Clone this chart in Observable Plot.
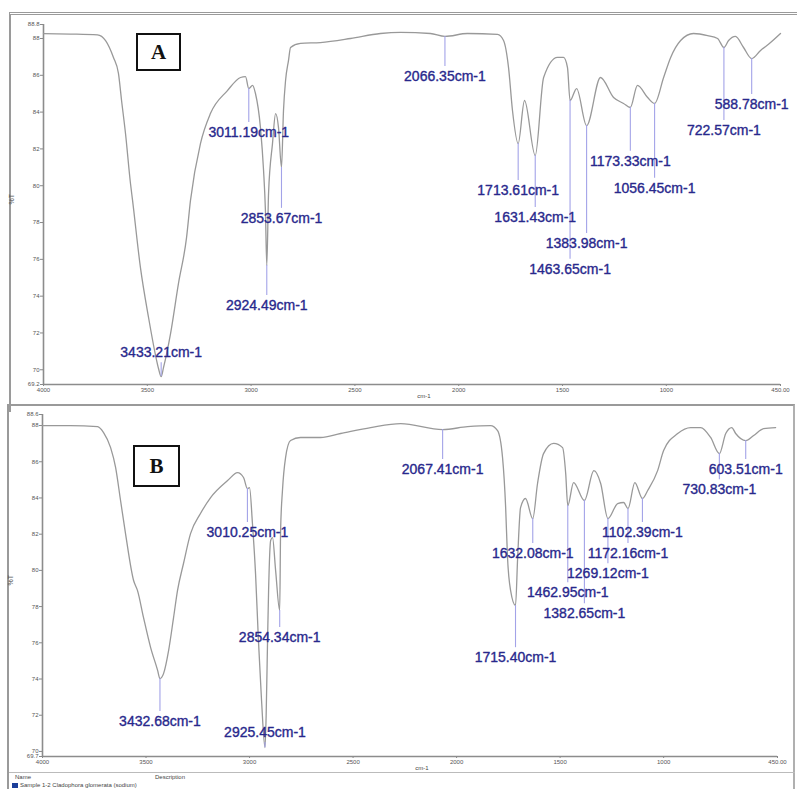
<!DOCTYPE html>
<html><head><meta charset="utf-8">
<script src="https://cdn.jsdelivr.net/npm/d3@7"></script>
<script src="https://cdn.jsdelivr.net/npm/@observablehq/plot@0.6"></script>
<style>
html,body{margin:0;padding:0;background:#fff;}
body{width:797px;height:789px;position:relative;overflow:hidden;font-family:"Liberation Sans",Arial,sans-serif;}
.abs{position:absolute;}
#frameA{left:9px;top:12px;width:820px;height:400px;border-top:3px double #9a9a9a;border-left:2px solid #9a9a9a;box-sizing:border-box;}
#frameB{left:7px;top:404px;width:788px;height:400px;border-top:2px solid #9a9a9a;border-left:2px solid #9a9a9a;border-right:2px solid #b0b0b0;box-sizing:border-box;}
.box{border:2px solid #111;box-sizing:border-box;font-family:"Liberation Serif","Times New Roman",serif;font-weight:bold;font-size:21px;display:flex;align-items:center;justify-content:center;background:#fff;color:#111;}
.tiny{font-size:6px;color:#444;white-space:nowrap;}
</style></head><body>
<div id="frameA" class="abs"></div>
<div id="frameB" class="abs"></div>
<div id="plotA" class="abs" style="left:0;top:0"></div>
<div id="plotB" class="abs" style="left:0;top:400px"></div>
<div class="abs box" style="left:136px;top:33px;width:45px;height:38px">A</div>
<div class="abs box" style="left:133px;top:445px;width:47px;height:42px">B</div>
<div class="abs" style="left:9px;top:772px;width:786px;border-top:1px solid #bbb"></div>
<div class="abs tiny" style="left:15px;top:774px">Name</div>
<div class="abs tiny" style="left:155px;top:774px">Description</div>
<div class="abs" style="left:12px;top:783px;width:6px;height:5px;background:#1d3f9a"></div>
<div class="abs tiny" style="left:20px;top:782px">Sample 1-2 Cladophora glomerata (sodium)</div>
<script>
// ---- Panel A spectrum ----
const wavenumberA = [4000,3870,3740,3701,3663,3639,3624,3605,3581,3571,3533,3494,3460,3446,3433.21,3422,3388,3350,3311,3292,3244,3196,3114,3051,3027,3011.19,2993,2979,2955,2940,2931,2924.49,2916,2897,2882,2868,2853.67,2844,2834,2820,2810,2762,2666,2521,2377,2280,2136,2066.35,1958,1813,1784,1760,1741,1713.61,1683,1631.43,1591,1524,1495,1476,1463.65,1432,1383.98,1317,1254,1206,1173.33,1139,1090,1056.45,1013,979,931,869,801,753,722.57,700,667,628,588.78,546,498,450];
const transmittanceA = [88.26,88.24,88.20,87.89,86.97,86.10,84.63,82.84,80.12,79.20,75.55,72.84,70.77,70.07,69.63,70.12,71.97,74.68,77.18,79.20,82.29,83.92,85.17,85.88,85.93,85.28,85.45,85.01,83.16,80.83,78.65,75.66,79.58,82.29,83.92,83.16,80.99,84.09,85.72,86.80,87.51,87.73,87.78,88.0,88.27,88.33,88.27,88.11,88.27,88.22,87.89,86.42,84.09,82.29,84.63,81.64,85.88,86.97,86.97,86.42,84.63,85.28,83.27,85.88,84.79,84.47,84.25,85.45,84.79,84.47,85.88,86.97,87.89,88.27,88.16,88.0,87.51,87.89,88.11,87.51,86.91,87.35,87.78,88.27];
const peaksA = [3433.21,3011.19,2924.49,2853.67,2066.35,1713.61,1631.43,1463.65,1383.98,1173.33,1056.45,722.57,588.78];
const peakTA = [69.63,85.28,75.66,80.99,88.11,82.29,81.64,84.63,83.27,84.25,84.47,87.51,86.91];
const labelTA = [70.93,82.89,73.49,78.22,85.93,79.74,78.27,75.45,76.86,81.32,79.85,83.0,84.41];
const yDomainA = [69.2, 88.76];

// ---- Panel B spectrum ----
const wavenumberB = [4000,3865,3734,3705,3671,3647,3623,3599,3560,3541,3512,3478,3444,3432.68,3415,3391,3367,3348,3319,3285,3237,3188,3106,3058,3029,3010.25,3000,2986,2971,2957,2942,2925.45,2920,2913,2908,2898,2889,2874,2854.34,2850,2841,2826,2802,2754,2657,2560,2415,2270,2067.41,1947,1836,1802,1778,1763,1754,1739,1715.40,1705,1691,1667,1632.08,1609,1580,1531,1488,1473,1462.95,1435,1382.65,1337,1304,1269.12,1222,1193,1172.16,1139,1102.39,1077,1029,1000,932,869,821,773,730.83,700,671,652,603.51,565,517,459];
const transmittanceB = [88.0,88.0,87.94,87.61,86.78,85.69,83.86,82.03,79.44,78.88,77.39,75.75,74.48,74.02,74.31,75.57,77.39,78.88,80.38,82.03,83.14,84.02,84.96,85.40,85.13,84.52,84.57,82.59,79.82,76.12,72.81,70.21,71.87,76.12,78.88,81.65,81.81,79.99,77.78,82.20,84.41,86.23,87.17,87.34,87.34,87.56,87.89,88.11,87.78,87.94,88.0,87.72,86.23,83.47,80.71,78.88,78.06,80.71,83.47,83.97,82.86,84.80,86.45,87.01,86.78,85.35,83.58,84.85,83.86,85.51,84.80,82.86,83.69,83.75,83.41,84.85,83.97,84.41,85.51,86.62,87.56,87.89,87.89,87.34,86.45,87.56,87.89,87.56,87.17,87.45,87.83,87.89];
const peaksB = [3432.68,3010.25,2925.45,2854.34,2067.41,1715.40,1632.08,1462.95,1382.65,1269.12,1172.16,1102.39,730.83,603.51];
const peakTB = [74.02,84.52,70.21,77.78,87.78,78.06,82.86,83.58,83.86,82.86,83.41,83.97,86.45,87.17];
const labelTB = [71.65,82.09,71.04,76.29,85.57,75.18,80.93,78.77,77.61,79.82,80.93,82.09,84.46,85.57];
const yDomainB = [69.72, 88.61];

// ---- shared axis ticks ----
const xTicks = [4000,3500,3000,2500,2000,1500,1000,450];
const xTickLabels = ["4000","3500","3000","2500","2000","1500","1000","450.00"];
const yTicks = [70,72,74,76,78,80,82,84,86,88];
const xLabel = "cm-1";
const yLabel = "%T";

function panel(wn, tr, pk, pkT, lbT, yDom, opts) {
  const spec = wn.map((w, i) => ({nu: w, t: tr[i]}));
  const peaks = pk.map((w, i) => ({nu: w, t: pkT[i], lt: lbT[i]}));
  const off = 0.55;
  const yt = [yDom[0], ...yTicks, yDom[1]];
  return Plot.plot({
    width: 797, height: opts.height,
    marginLeft: opts.ml, marginRight: opts.mr, marginTop: opts.mt, marginBottom: opts.mb,
    x: {domain: [4000, 450]},
    y: {domain: yDom},
    style: {background: "transparent", fontSize: "6px", fontFamily: "Liberation Sans, Arial, sans-serif", overflow: "visible"},
    marks: [
      Plot.axisX({ticks: xTicks, tickFormat: d => xTickLabels[xTicks.indexOf(d)], tickSize: 2, tickPadding: 1, stroke: "#888", fill: "#555", label: null}),
      Plot.axisY({ticks: yt, tickFormat: d => Number.isInteger(d) ? String(d) : d.toFixed(1), tickSize: 3, tickPadding: 1, stroke: "#888", fill: "#555", label: null}),
      Plot.ruleY([yDom[0]], {stroke: "#8c8c8c", strokeWidth: 1.6}),
      Plot.ruleX([4000], {stroke: "#8c8c8c", strokeWidth: 1.6}),
      Plot.text([xLabel], {frameAnchor: "bottom", dy: 13, dx: 12, fill: "#444", fontSize: 6}),
      Plot.text([yLabel], {frameAnchor: "left", dx: -32, rotate: -90, fill: "#555", fontSize: 7}),
      Plot.line(spec, {x: "nu", y: "t", stroke: "#999", strokeWidth: 1.3, curve: "monotone-x"}),
      Plot.ruleX(peaks, {x: "nu", y1: "t", y2: d => d.lt + (d.t > d.lt ? off : -off), stroke: "#a3a3e8", strokeWidth: 1.1}),
      Plot.text(peaks, {x: "nu", y: "lt", text: d => d.nu.toFixed(2) + "cm-1", fontSize: 14, fill: "#28288c", stroke: "#28288c", strokeWidth: 0.35, fontFamily: "Liberation Sans, Arial, sans-serif"})
    ]
  });
}

document.getElementById("plotA").appendChild(
  panel(wavenumberA, transmittanceA, peaksA, peakTA, labelTA, yDomainA, {height: 402, ml: 43, mr: 17, mt: 24, mb: 18}));
document.getElementById("plotB").appendChild(
  panel(wavenumberB, transmittanceB, peaksB, peakTB, labelTB, yDomainB, {height: 372, ml: 42, mr: 20, mt: 14, mb: 16}));
</script>
</body></html>
